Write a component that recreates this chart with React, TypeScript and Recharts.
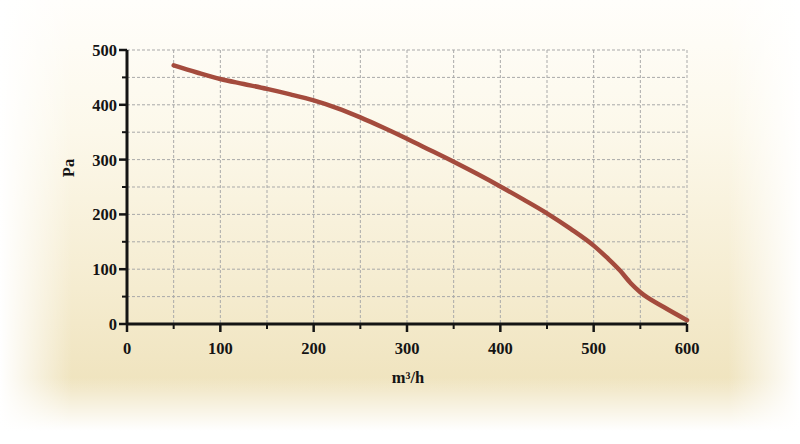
import React from "react";
import { LineChart, Line, XAxis, YAxis, CartesianGrid } from "recharts";

// fan curve: airflow (m³/h) vs static pressure (Pa)
const flow = [50, 75, 100, 125, 150, 175, 200, 225, 250, 275, 300, 325, 350, 375, 400, 425, 450, 475, 500, 515, 528, 540, 550, 575, 600];
const pressure = [472, 459, 447, 438, 429, 419, 408, 394, 377, 358, 338, 317, 296, 274, 251, 227, 202, 174, 143, 120, 98, 74, 58, 31, 7];

const xTicks = [0, 50, 100, 150, 200, 250, 300, 350, 400, 450, 500, 550, 600];
const yTicks = [0, 50, 100, 150, 200, 250, 300, 350, 400, 450, 500];

const FONT = "'Liberation Serif', 'DejaVu Serif', serif";
const INK = "#141414";
const FS = 16.5;

const data = flow.map((q, i) => ({ q, p: pressure[i] }));

const XTick = ({ x, y, payload }: any) => {
  const major = payload.value % 100 === 0;
  return (
    <g>
      <line x1={x} x2={x} y1={y} y2={y + (major ? 8 : 5)} stroke={INK} strokeWidth={major ? 2.5 : 2} />
      {major && (
        <text x={x} y={y + 30} textAnchor="middle" fontFamily={FONT} fontWeight={700} fontSize={FS} fill={INK}>
          {payload.value}
        </text>
      )}
    </g>
  );
};

const YTick = ({ x, y, payload }: any) => {
  const major = payload.value % 100 === 0;
  return (
    <g>
      <line x1={x - (major ? 8 : 5)} x2={x} y1={y} y2={y} stroke={INK} strokeWidth={major ? 2.5 : 2} />
      {major && (
        <text x={x - 10} y={y + 6} textAnchor="end" fontFamily={FONT} fontWeight={700} fontSize={FS} fill={INK}>
          {payload.value}
        </text>
      )}
    </g>
  );
};

export default function App() {
  return (
    <div
      style={{
        position: "absolute",
        left: 0,
        top: 0,
        width: 800,
        height: 444,
        background: [
          "linear-gradient(to right, #ffffff 0%, rgba(255,255,255,0) 9%, rgba(255,255,255,0) 91%, #ffffff 100%)",
          "linear-gradient(to bottom, rgba(255,255,255,0) 85%, #ffffff 97%)",
          "linear-gradient(to bottom, #fffefb 0%, #fcf8ea 30%, #f5ecd0 65%, #efe3bd 88%)",
        ].join(", "),
      }}
    >
      <LineChart width={800} height={444} data={data} margin={{ top: 50, right: 113, left: 0, bottom: 0 }}>
        <CartesianGrid stroke="#a9a9a9" strokeDasharray="3 2" strokeWidth={1} />
        <XAxis
          type="number"
          dataKey="q"
          domain={[0, 600]}
          ticks={xTicks}
          height={120}
          tickSize={0}
          tickMargin={0}
          tickLine={false}
          tick={<XTick />}
          axisLine={{ stroke: INK, strokeWidth: 3 }}
          interval={0}
          label={{
            content: ({ viewBox }: any) => (
              <text
                x={viewBox.x + viewBox.width / 2 + 1}
                y={viewBox.y + 59}
                textAnchor="middle"
                fontFamily={FONT}
                fontWeight={700}
                fontSize={FS}
                fill={INK}
              >
                m³/h
              </text>
            ),
          }}
        />
        <YAxis
          type="number"
          domain={[0, 500]}
          ticks={yTicks}
          width={127}
          tickSize={0}
          tickMargin={0}
          tickLine={false}
          tick={<YTick />}
          axisLine={{ stroke: INK, strokeWidth: 3 }}
          interval={0}
          label={{
            content: ({ viewBox }: any) => (
              <text
                x={74}
                y={viewBox.y + 118}
                transform={`rotate(-90 74 ${viewBox.y + 118})`}
                textAnchor="middle"
                fontFamily={FONT}
                fontWeight={700}
                fontSize={FS}
                fill={INK}
              >
                Pa
              </text>
            ),
          }}
        />
        <Line
          type="monotone"
          dataKey="p"
          stroke="#a44b3d"
          strokeWidth={4.5}
          strokeLinecap="round"
          dot={false}
          activeDot={false}
          isAnimationActive={false}
        />
      </LineChart>
    </div>
  );
}
